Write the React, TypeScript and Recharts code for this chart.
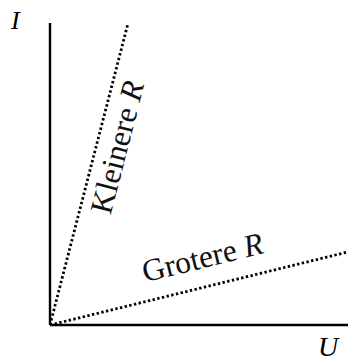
import React from 'react';
import { LineChart, Line, XAxis, YAxis, ReferenceDot, ReferenceLine } from 'recharts';

// U–I diagram: two resistors, both lines through the origin
const kleinereR = [
  { u: 0, i: 0 },
  { u: 2.62, i: 10 },
];
const grotereR = [
  { u: 0, i: 0 },
  { u: 10, i: 2.42 },
];

// label anchors, in data units
const labelKleinere = { u: 2.6, i: 5.8, angle: -75.5 };
const labelGrotere = { u: 5.2, i: 1.9, angle: -13.8 };

const serif = '"Liberation Serif", "DejaVu Serif", serif';

const rotatedLabel = (text: string, angle: number) => (props: any) => {
  const { cx, cy } = props;
  return (
    <text
      x={cx}
      y={cy}
      transform={`rotate(${angle}, ${cx}, ${cy})`}
      textAnchor="middle"
      fontFamily={serif}
      fontSize={31.5}
      fill="#111"
    >
      {text}
      <tspan fontStyle="italic">R</tspan>
    </text>
  );
};

export default function App() {
  return (
    <div style={{ position: 'absolute', left: 0, top: 0, width: 348, height: 364, background: '#fff' }}>
      <LineChart width={348} height={364} margin={{ top: 23, right: 0, left: 50, bottom: 39 }}>
        <XAxis type="number" dataKey="u" domain={[0, 10]} hide allowDataOverflow />
        <YAxis type="number" dataKey="i" domain={[0, 10]} hide allowDataOverflow />
        <ReferenceLine x={0} stroke="#000" strokeWidth={2.4} />
        <ReferenceLine y={0} stroke="#000" strokeWidth={2.4} />
        <Line
          data={kleinereR}
          dataKey="i"
          type="linear"
          stroke="#000"
          strokeWidth={2.8}
          strokeDasharray="2.4 2.4"
          dot={false}
          isAnimationActive={false}
        />
        <Line
          data={grotereR}
          dataKey="i"
          type="linear"
          stroke="#000"
          strokeWidth={2.8}
          strokeDasharray="2.4 2.4"
          dot={false}
          isAnimationActive={false}
        />
        <ReferenceDot
          x={labelKleinere.u}
          y={labelKleinere.i}
          r={0}
          shape={rotatedLabel('Kleinere ', labelKleinere.angle)}
        />
        <ReferenceDot
          x={labelGrotere.u}
          y={labelGrotere.i}
          r={0}
          shape={rotatedLabel('Grotere ', labelGrotere.angle)}
        />
      </LineChart>
      <div
        style={{
          position: 'absolute',
          left: 11,
          top: 6,
          fontFamily: serif,
          fontStyle: 'italic',
          fontSize: 26,
          lineHeight: '30px',
        }}
      >
        I
      </div>
      <div
        style={{
          position: 'absolute',
          left: 318,
          top: 332,
          fontFamily: serif,
          fontStyle: 'italic',
          fontSize: 28,
          lineHeight: '30px',
        }}
      >
        U
      </div>
    </div>
  );
}
